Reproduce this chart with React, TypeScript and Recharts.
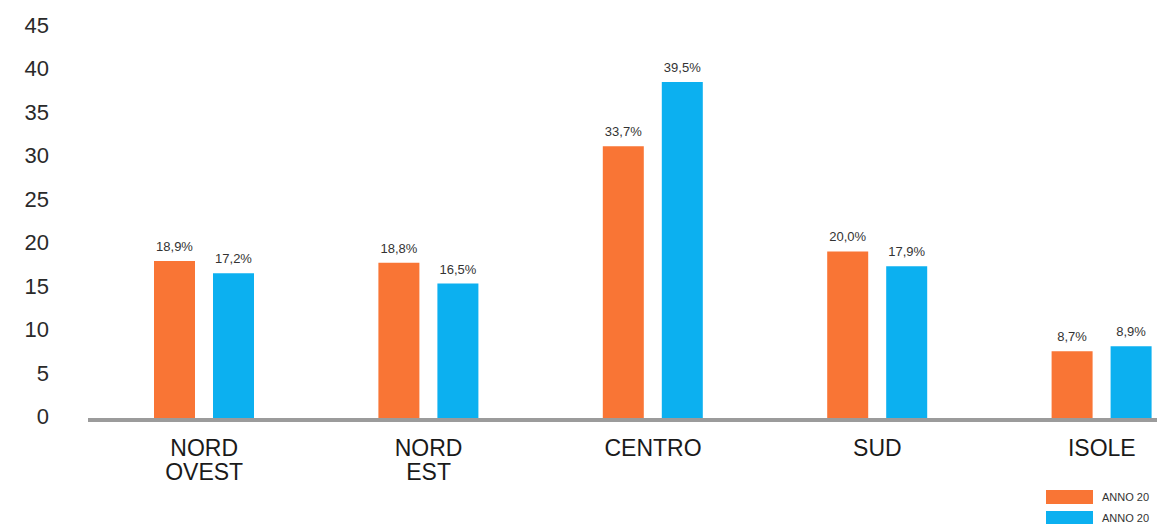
import React from 'react';
import { BarChart, Bar, XAxis, YAxis, LabelList, Legend } from 'recharts';

// regions on the x axis ("\n" splits the two-line ticks)
const regions = ['NORD\nOVEST', 'NORD\nEST', 'CENTRO', 'SUD', 'ISOLE'];

// bar heights as drawn
const seriesA = [18.3, 18.1, 31.5, 19.4, 7.9];
const seriesB = [16.9, 15.7, 38.9, 17.7, 8.5];

// the printed labels above the bars
const labelsA = ['18,9%', '18,8%', '33,7%', '20,0%', '8,7%'];
const labelsB = ['17,2%', '16,5%', '39,5%', '17,9%', '8,9%'];

const seriesNames = ['ANNO 20', 'ANNO 20'];
const yTicks = [0, 5, 10, 15, 20, 25, 30, 35, 40, 45];

const ORANGE = '#F97535';
const BLUE = '#0CB0F0';
const FONT = '"Liberation Sans", Arial, sans-serif';

const data = regions.map((region, i) => ({
  region,
  a: seriesA[i],
  b: seriesB[i],
  labelA: labelsA[i],
  labelB: labelsB[i],
}));

const RegionTick = (props: any) => {
  const { x, y, payload } = props;
  const lines = String(payload.value).split('\n');
  return (
    <g>
      {lines.map((line, i) => (
        <text
          key={i}
          x={x}
          y={y + 36 + i * 24}
          textAnchor="middle"
          fill="#1a1a1a"
          fontSize={23}
          fontFamily={FONT}
        >
          {line}
        </text>
      ))}
    </g>
  );
};

const ValueTick = (props: any) => {
  const { y, payload } = props;
  return (
    <text x={41} y={y + 4} textAnchor="end" fill="#2a2a2a" fontSize={22} fontFamily={FONT}>
      {payload.value}
    </text>
  );
};

const LegendBox = (props: any) => {
  const { payload } = props;
  return (
    <div style={{ fontFamily: FONT }}>
      {(payload || []).map((entry: any, i: number) => (
        <div key={i} style={{ display: 'flex', alignItems: 'center', height: 14, marginBottom: 7 }}>
          <div style={{ width: 47, height: 14, background: entry.color }} />
          <span style={{ marginLeft: 9, fontSize: 11, color: '#333', whiteSpace: 'nowrap' }}>
            {entry.value}
          </span>
        </div>
      ))}
    </div>
  );
};

export default function App() {
  return (
    <>
      <style>{'body { margin: 0; }'}</style>
      <div
        style={{
          width: 1157,
          height: 524,
          boxSizing: 'border-box',
          padding: '8px 0 0 8px',
          overflow: 'hidden',
          position: 'relative',
        }}
      >
        <BarChart
          width={1206}
          height={516}
          data={data}
          margin={{ top: 21, right: 0, bottom: 0, left: 0 }}
          barSize={41}
          barGap={18}
        >
          <XAxis
            dataKey="region"
            height={104}
            padding={{ left: 4, right: 0 }}
            axisLine={{ stroke: '#9b9b9b', strokeWidth: 4 }}
            tickLine={false}
            tickSize={0}
            tickMargin={0}
            interval={0}
            tick={<RegionTick />}
          />
          <YAxis
            width={80}
            domain={[0, 45]}
            ticks={yTicks}
            axisLine={false}
            tickLine={false}
            tick={<ValueTick />}
          />
          <Legend
            layout="vertical"
            align="center"
            verticalAlign="middle"
            wrapperStyle={{ left: 1038, top: 482, width: 'auto' }}
            content={<LegendBox />}
          />
          <Bar dataKey="a" name={seriesNames[0]} fill={ORANGE} isAnimationActive={false}>
            <LabelList dataKey="labelA" position="top" offset={10} fill="#333" fontSize={13} fontFamily={FONT} />
          </Bar>
          <Bar dataKey="b" name={seriesNames[1]} fill={BLUE} isAnimationActive={false}>
            <LabelList dataKey="labelB" position="top" offset={10} fill="#333" fontSize={13} fontFamily={FONT} />
          </Bar>
        </BarChart>
      </div>
    </>
  );
}
